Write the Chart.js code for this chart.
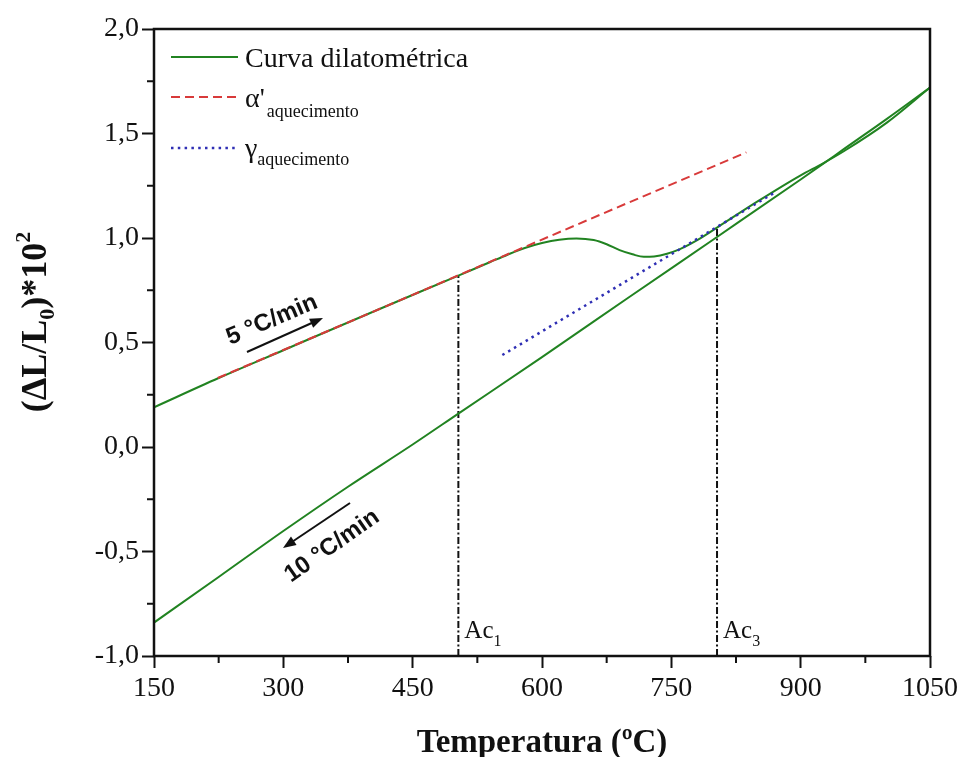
<!DOCTYPE html>
<html>
<head>
<meta charset="utf-8">
<script src="https://cdn.jsdelivr.net/npm/chart.js@4.4.0/dist/chart.umd.min.js"></script>
<style>
  html, body { margin: 0; padding: 0; background: #fff; }
  #wrap { width: 962px; height: 757px; }
</style>
</head>
<body>
<div id="wrap"><canvas id="dil" width="962" height="757"></canvas></div>
<script>
// Curva dilatométrica
const heatT = [150, 225, 300, 400, 503, 540, 560, 580, 600, 620, 640, 660, 675, 690, 705, 718, 730, 745, 760, 780, 803, 850, 900, 925, 950, 1000, 1050];
const heatL = [0.19, 0.33, 0.463, 0.64, 0.82, 0.885, 0.92, 0.952, 0.976, 0.992, 0.998, 0.99, 0.97, 0.942, 0.922, 0.91, 0.912, 0.925, 0.947, 0.99, 1.05, 1.175, 1.30, 1.355, 1.415, 1.552, 1.72];

const coolT = [150, 225, 300, 375, 450, 503, 600, 700, 803, 900, 925, 950, 1000, 1050];
const coolL = [-0.84, -0.622, -0.402, -0.19, 0.012, 0.16, 0.43, 0.714, 1.005, 1.28, 1.352, 1.425, 1.57, 1.72];

// retas de ajuste
const alphaT = [224, 837];
const alphaL = [0.33, 1.41];
const gammaT = [554, 871];
const gammaL = [0.44, 1.22];

// temperaturas críticas
const acT = [503, 803];
const acTop = [0.82, 1.05];
const acNames = ["1", "3"];

const xTicks = { min: 150, max: 1050, step: 150 };
const yTicks = { min: -1, max: 2, step: 0.5 };

const SERIF = "'Liberation Serif', 'Times New Roman', serif";
const SANS = "'Liberation Sans', Arial, sans-serif";
const GREEN = "#218321";
const RED = "#d83a3a";
const BLUE = "#2f2fb4";
const INK = "#111";

const pts = (xs, ys) => xs.map((x, i) => ({ x, y: ys[i] }));

// texto com sub/sobrescrito
function richText(ctx, parts, x, y) {
  let cx = x;
  parts.forEach((p) => {
    ctx.font = `${p.bold ? "bold " : ""}${p.size}px ${p.family || SERIF}`;
    ctx.fillText(p.t, cx, y + (p.dy || 0));
    cx += ctx.measureText(p.t).width + (p.gap || 0);
  });
  return cx;
}

function richWidth(ctx, parts) {
  let w = 0;
  parts.forEach((p) => {
    ctx.font = `${p.bold ? "bold " : ""}${p.size}px ${p.family || SERIF}`;
    w += ctx.measureText(p.t).width + (p.gap || 0);
  });
  return w;
}

function arrow(ctx, x1, y1, x2, y2) {
  const a = Math.atan2(y2 - y1, x2 - x1);
  ctx.save();
  ctx.strokeStyle = INK;
  ctx.fillStyle = INK;
  ctx.lineWidth = 2;
  ctx.beginPath();
  ctx.moveTo(x1, y1);
  ctx.lineTo(x2 - 8 * Math.cos(a), y2 - 8 * Math.sin(a));
  ctx.stroke();
  ctx.beginPath();
  ctx.moveTo(x2, y2);
  ctx.lineTo(x2 - 13 * Math.cos(a) + 5 * Math.sin(a), y2 - 13 * Math.sin(a) - 5 * Math.cos(a));
  ctx.lineTo(x2 - 13 * Math.cos(a) - 5 * Math.sin(a), y2 - 13 * Math.sin(a) + 5 * Math.cos(a));
  ctx.closePath();
  ctx.fill();
  ctx.restore();
}

function rotatedLabel(ctx, text, cx, cy, deg) {
  ctx.save();
  ctx.translate(cx, cy);
  ctx.rotate((deg * Math.PI) / 180);
  ctx.font = `bold 24px ${SANS}`;
  ctx.fillStyle = INK;
  ctx.textAlign = "center";
  ctx.textBaseline = "middle";
  ctx.fillText(text, 0, 0);
  ctx.restore();
}

const decor = {
  id: "decor",
  afterDraw(chart) {
    const { ctx, chartArea: ca, scales } = chart;
    const xs = scales.x;
    const ys = scales.y;

    ctx.save();
    // moldura
    ctx.strokeStyle = INK;
    ctx.lineWidth = 2.5;
    ctx.strokeRect(ca.left, ca.top, ca.right - ca.left, ca.bottom - ca.top);

    // ticks menores
    ctx.lineWidth = 2;
    ctx.beginPath();
    for (let v = xTicks.min + xTicks.step / 2; v < xTicks.max; v += xTicks.step) {
      const px = xs.getPixelForValue(v);
      ctx.moveTo(px, ca.bottom);
      ctx.lineTo(px, ca.bottom + 7);
    }
    for (let v = yTicks.min + yTicks.step / 2; v < yTicks.max; v += yTicks.step) {
      const py = ys.getPixelForValue(v);
      ctx.moveTo(ca.left, py);
      ctx.lineTo(ca.left - 7, py);
    }
    ctx.stroke();

    ctx.fillStyle = INK;
    ctx.textBaseline = "alphabetic";
    ctx.textAlign = "left";

    // titulo eixo x
    const xt = [{ t: "Temperatura (ºC)", size: 33, bold: true }];
    richText(ctx, xt, (ca.left + ca.right) / 2 - richWidth(ctx, xt) / 2, 752);

    // titulo eixo y
    const yt = [
      { t: "(ΔL/L", size: 36, bold: true },
      { t: "0", size: 22, bold: true, dy: 8 },
      { t: ")*10", size: 36, bold: true },
      { t: "2", size: 22, bold: true, dy: -16 },
    ];
    ctx.save();
    ctx.translate(46, 322);
    ctx.rotate(-Math.PI / 2);
    richText(ctx, yt, -richWidth(ctx, yt) / 2, 0);
    ctx.restore();

    // legenda
    const lx1 = 171, lx2 = 238;
    ctx.lineWidth = 2;
    ctx.strokeStyle = GREEN;
    ctx.beginPath(); ctx.moveTo(lx1, 57); ctx.lineTo(lx2, 57); ctx.stroke();
    ctx.strokeStyle = RED;
    ctx.setLineDash([9, 5]);
    ctx.beginPath(); ctx.moveTo(lx1, 97); ctx.lineTo(lx2, 97); ctx.stroke();
    ctx.strokeStyle = BLUE;
    ctx.lineWidth = 2.5;
    ctx.setLineDash([2.5, 4.3]);
    ctx.beginPath(); ctx.moveTo(lx1, 148); ctx.lineTo(lx2, 148); ctx.stroke();
    ctx.setLineDash([]);

    richText(ctx, [{ t: "Curva dilatométrica", size: 28 }], 245, 67);
    richText(ctx, [
      { t: "α'", size: 28, gap: 2 },
      { t: "aquecimento", size: 18, dy: 10 },
    ], 245, 107);
    richText(ctx, [
      { t: "γ", size: 28 },
      { t: "aquecimento", size: 18, dy: 8 },
    ], 245, 157);

    // Ac1 / Ac3
    acT.forEach((t, i) => {
      const px = xs.getPixelForValue(t);
      richText(ctx, [
        { t: "Ac", size: 25 },
        { t: acNames[i], size: 16, dy: 8 },
      ], px + 6, 638);
    });

    // taxas de aquecimento / resfriamento
    rotatedLabel(ctx, "5 °C/min", 272, 320, -23);
    arrow(ctx, 247, 352, 323, 318);
    rotatedLabel(ctx, "10 °C/min", 332, 546, -35);
    arrow(ctx, 350, 503, 283, 548);

    ctx.restore();
  },
};

const datasets = [
  {
    label: "α'aquecimento",
    data: pts(alphaT, alphaL),
    borderColor: RED,
    borderWidth: 2,
    borderDash: [9, 5],
    order: 0,
  },
  {
    label: "γaquecimento",
    data: pts(gammaT, gammaL),
    borderColor: BLUE,
    borderWidth: 2.5,
    borderDash: [2.5, 4.3],
    order: 1,
  },
  {
    label: "Curva dilatométrica",
    data: pts(heatT, heatL),
    borderColor: GREEN,
    borderWidth: 2,
    cubicInterpolationMode: "monotone",
    order: 2,
  },
  {
    label: "Curva dilatométrica (resfriamento)",
    data: pts(coolT, coolL),
    borderColor: GREEN,
    borderWidth: 2,
    cubicInterpolationMode: "monotone",
    order: 2,
  },
];

acT.forEach((t, i) => {
  datasets.push({
    label: "Ac" + acNames[i],
    data: [{ x: t, y: yTicks.min }, { x: t, y: acTop[i] }],
    borderColor: INK,
    borderWidth: 2,
    borderDash: [7, 2.5, 2, 2.5],
    order: 3,
  });
});

datasets.forEach((d) => {
  d.pointRadius = 0;
  d.fill = false;
  d.backgroundColor = d.borderColor;
});

new Chart(document.getElementById("dil"), {
  type: "line",
  data: { datasets },
  options: {
    responsive: false,
    animation: false,
    layout: { padding: { top: 29, right: 30, left: 0, bottom: 0 } },
    plugins: {
      legend: { display: false },
      tooltip: { enabled: false },
    },
    scales: {
      x: {
        type: "linear",
        min: xTicks.min,
        max: xTicks.max,
        ticks: {
          stepSize: xTicks.step,
          autoSkip: false,
          maxRotation: 0,
          padding: 4,
          color: INK,
          font: { family: SERIF, size: 28 },
          callback: (v) => String(v),
        },
        grid: {
          drawOnChartArea: false,
          drawTicks: true,
          tickLength: 12,
          tickWidth: 2,
          tickColor: INK,
        },
        border: { display: false },
        afterFit: (s) => { s.height = 101; },
      },
      y: {
        min: yTicks.min,
        max: yTicks.max,
        ticks: {
          stepSize: yTicks.step,
          padding: 3,
          color: INK,
          font: { family: SERIF, size: 28 },
          callback: (v) => Number(v).toFixed(1).replace(".", ","),
        },
        grid: {
          drawOnChartArea: false,
          drawTicks: true,
          tickLength: 12,
          tickWidth: 2,
          tickColor: INK,
        },
        border: { display: false },
        afterFit: (s) => { s.width = 154; },
      },
    },
  },
  plugins: [decor],
});
</script>
</body>
</html>
